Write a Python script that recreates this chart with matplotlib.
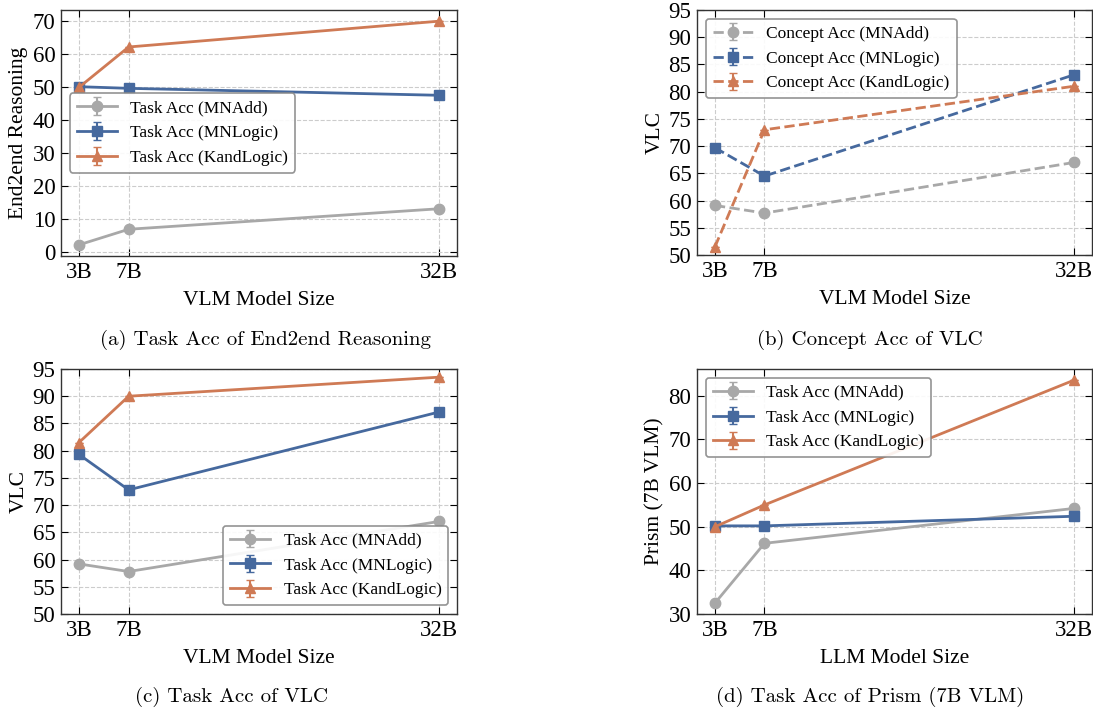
import matplotlib
matplotlib.use("Agg")
import matplotlib.pyplot as plt
from matplotlib.ticker import MultipleLocator

plt.rcParams['font.family'] = ['Liberation Serif', 'DejaVu Serif']
plt.rcParams['mathtext.fontset'] = 'stix'

sizes = [3, 7, 32]
size_labels = ['3B', '7B', '32B']

# (a) Task Acc of End2end Reasoning
a_mnadd = [2.2, 6.9, 13.1]
a_mnlogic = [50.0, 49.5, 47.4]
a_kand = [49.8, 62.0, 69.8]

# (b) Concept Acc of VLC
b_mnadd = [59.1, 57.7, 67.0]
b_mnlogic = [69.7, 64.5, 83.1]
b_kand = [51.5, 73.0, 81.0]

# (c) Task Acc of VLC
c_mnadd = [59.2, 57.8, 67.0]
c_mnlogic = [79.3, 72.8, 87.1]
c_kand = [81.5, 90.0, 93.5]

# (d) Task Acc of Prism (7B VLM)
d_mnadd = [32.5, 46.2, 54.2]
d_mnlogic = [50.2, 50.2, 52.4]
d_kand = [50.0, 55.0, 83.6]

err = [0.0, 0.0, 0.0]

task_names = ['Task Acc (MNAdd)', 'Task Acc (MNLogic)', 'Task Acc (KandLogic)']
concept_names = ['Concept Acc (MNAdd)', 'Concept Acc (MNLogic)', 'Concept Acc (KandLogic)']

colors = ['#A8A8A8', '#46699E', '#CF7A55']
markers = ['o', 's', '^']

W, H = 1093, 711
fig = plt.figure(figsize=(W / 100, H / 100), dpi=100)

def box(l, t, r, b):
    return [l / W, 1 - b / H, (r - l) / W, (b - t) / H]

axes_boxes = [box(61, 10, 457, 256), box(697, 10, 1092, 255),
              box(61, 369, 457, 614), box(697, 369, 1092, 614)]

panels = [
    (a_mnadd, a_mnlogic, a_kand, task_names, '-', 'End2end Reasoning', 'VLM Model Size', None, 10, 'center left'),
    (b_mnadd, b_mnlogic, b_kand, concept_names, '--', 'VLC', 'VLM Model Size', (50, 95), 5, 'upper left'),
    (c_mnadd, c_mnlogic, c_kand, task_names, '-', 'VLC', 'VLM Model Size', (50, 95), 5, 'lower right'),
    (d_mnadd, d_mnlogic, d_kand, task_names, '-', 'Prism (7B VLM)', 'LLM Model Size', (30, None), 10, 'upper left'),
]

for bx, (s1, s2, s3, names, ls, ylab, xlab, ylim, step, lloc) in zip(axes_boxes, panels):
    ax = fig.add_axes(bx)
    for vals, name, col, mk in zip([s1, s2, s3], names, colors, markers):
        ax.errorbar(sizes, vals, yerr=err, label=name, color=col, marker=mk,
                    linestyle=ls, linewidth=2, markersize=7.5, capsize=3,
                    elinewidth=1.5)
    ax.set_xticks(sizes)
    ax.set_xticklabels(size_labels)
    if ylim is not None:
        ax.set_ylim(*ylim)
    ax.yaxis.set_major_locator(MultipleLocator(step))
    ax.grid(True, linestyle='--', color='#CCCCCC', linewidth=0.8)
    ax.set_axisbelow(True)
    ax.tick_params(direction='in', top=True, right=True, labelsize=16.5,
                   length=5, width=0.8, pad=4)
    for sp in ax.spines.values():
        sp.set_linewidth(1.0)
        sp.set_color('#333333')
    ax.set_ylabel(ylab, fontsize=15.5, labelpad=3)
    ax.set_xlabel(xlab, fontsize=15.5, labelpad=6)
    leg = ax.legend(loc=lloc, fontsize=12.5, frameon=True, fancybox=True,
                    edgecolor='#888888', framealpha=0.9, handlelength=2.3,
                    handletextpad=0.8)
    leg.get_frame().set_linewidth(1.2)

caps = [('(a) Task Acc of End2end Reasoning', 265, 340),
        ('(b) Concept Acc of VLC', 870, 340),
        ('(c) Task Acc of VLC', 232, 697),
        ('(d) Task Acc of Prism (7B VLM)', 870, 697)]
for txt, x, y in caps:
    fig.text(x / W, 1 - y / H, txt, ha='center', va='center', fontsize=15,
             family=['cmr10', 'DejaVu Serif'])

fig.savefig('out.png', dpi=100)
